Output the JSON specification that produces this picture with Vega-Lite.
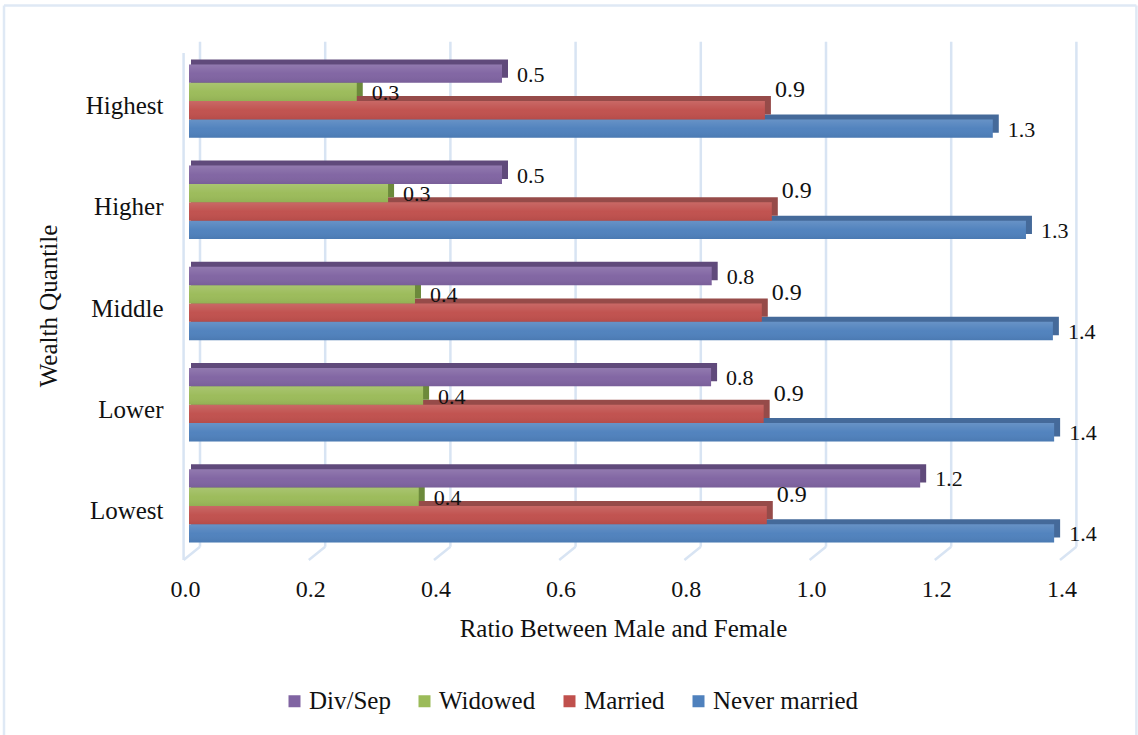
{
"$schema":"https://vega.github.io/schema/vega-lite/v6.json",
"autosize":"none","padding":{"left":189,"top":50.5,"right":72.6,"bottom":178.5},
"width":876.4,"height":506,"background":"white",
"config":{"view":{"stroke":null},"font":"Liberation Serif"},
"datasets":{
"bars":[
{"quantile":"Lowest","status":"Never married","value":1.382,"base":0},{"quantile":"Lowest","status":"Married","value":0.923,"base":0},{"quantile":"Lowest","status":"Widowed","value":0.367,"base":0},{"quantile":"Lowest","status":"Div/Sep","value":1.168,"base":0},
{"quantile":"Lower","status":"Never married","value":1.382,"base":0},{"quantile":"Lower","status":"Married","value":0.918,"base":0},{"quantile":"Lower","status":"Widowed","value":0.374,"base":0},{"quantile":"Lower","status":"Div/Sep","value":0.834,"base":0},
{"quantile":"Middle","status":"Never married","value":1.38,"base":0},{"quantile":"Middle","status":"Married","value":0.915,"base":0},{"quantile":"Middle","status":"Widowed","value":0.361,"base":0},{"quantile":"Middle","status":"Div/Sep","value":0.835,"base":0},
{"quantile":"Higher","status":"Never married","value":1.337,"base":0},{"quantile":"Higher","status":"Married","value":0.931,"base":0},{"quantile":"Higher","status":"Widowed","value":0.318,"base":0},{"quantile":"Higher","status":"Div/Sep","value":0.5,"base":0},
{"quantile":"Highest","status":"Never married","value":1.284,"base":0},{"quantile":"Highest","status":"Married","value":0.92,"base":0},{"quantile":"Highest","status":"Widowed","value":0.268,"base":0},{"quantile":"Highest","status":"Div/Sep","value":0.5,"base":0}
],
"ticks":[{"tick":0},{"tick":0.2},{"tick":0.4},{"tick":0.6},{"tick":0.8},{"tick":1.0},{"tick":1.2},{"tick":1.4}]
},
"resolve":{"scale":{"y":"independent","fill":"independent"}},
"layer":[
{"data":{"name":"ticks"},"mark":{"type":"rule","color":"#d8e4f3","strokeWidth":2.5,"yOffset":-9.8,"y2Offset":-8.8,"xOffset":11},
 "encoding":{"x":{"field":"tick","type":"quantitative","scale":{"domain":[0,1.4],"nice":false},
   "axis":{"values":[0,0.2,0.4,0.6,0.8,1,1.2,1.4],"format":".1f","domain":false,"ticks":false,"grid":false,"labelFontSize":24,"labelColor":"#111","labelPadding":21,"labelOffset":-4,"labelFlush":false,"title":"Ratio Between Male and Female","titleFontSize":25,"titleFontWeight":"normal","titleColor":"#111","titleX":434,"titleY":60,"titleFont":"Liberation Serif"}},
   "y":{"datum":0,"type":"quantitative","scale":{"domain":[0,1]},"axis":null},"y2":{"datum":1}}},
{"data":{"name":"ticks"},"mark":{"type":"rule","color":"#d8e4f3","strokeWidth":2.5,"xOffset":-5.4,"x2Offset":11,"yOffset":3.5,"y2Offset":-9.8},
 "encoding":{"x":{"field":"tick","type":"quantitative"},"x2":{"field":"tick"},
   "y":{"datum":0,"type":"quantitative","scale":{"domain":[0,1]},"axis":null},"y2":{"datum":0}}},
{"data":{"values":[{"tick":0}]},"mark":{"type":"rule","color":"#d8e4f3","strokeWidth":2.5,"xOffset":-5.4,"yOffset":3.5,"y2Offset":2.5},
 "encoding":{"x":{"field":"tick","type":"quantitative"},
   "y":{"datum":0,"type":"quantitative","scale":{"domain":[0,1]},"axis":null},"y2":{"datum":1}}},
{"data":{"values":[{"tick":0}]},"mark":{"type":"rule","color":"#dfe9f5","strokeWidth":2.5,"xOffset":-185,"yOffset":178.5,"y2Offset":-45},
 "encoding":{"x":{"field":"tick","type":"quantitative"},
   "y":{"datum":0,"type":"quantitative","scale":{"domain":[0,1]},"axis":null},"y2":{"datum":1}}},
{"data":{"values":[{"tick":1.4}]},"mark":{"type":"rule","color":"#dfe9f5","strokeWidth":2.5,"xOffset":71,"yOffset":178.5,"y2Offset":-45},
 "encoding":{"x":{"field":"tick","type":"quantitative"},
   "y":{"datum":0,"type":"quantitative","scale":{"domain":[0,1]},"axis":null},"y2":{"datum":1}}},
{"data":{"values":[{"tick":0,"end":1.4}]},"mark":{"type":"rule","color":"#dfe9f5","strokeWidth":2.5,"xOffset":-185,"x2Offset":71,"yOffset":-45},
 "encoding":{"x":{"field":"tick","type":"quantitative"},"x2":{"field":"end"},
   "y":{"datum":1,"type":"quantitative","scale":{"domain":[0,1]},"axis":null}}},
{"data":{"name":"bars"},"mark":{"type":"bar","xOffset":6,"x2Offset":2},
 "encoding":{"x":{"field":"value","type":"quantitative"},"x2":{"field":"base"},
   "y":{"field":"quantile","type":"nominal","sort":["Highest","Higher","Middle","Lower","Lowest"],"scale":{"range":[-5,501],"paddingInner":0.275,"paddingOuter":0.1375},"axis":null},
   "yOffset":{"field":"status","type":"nominal","sort":["Div/Sep","Widowed","Married","Never married"],"scale":{"paddingInner":0,"paddingOuter":0}},
   "fill":{"field":"status","type":"nominal","scale":{"domain":["Div/Sep","Widowed","Married","Never married"],"range":["#604a7b","#6c8a3b","#964b49","#456a9a"]},"legend":null}}},
{"data":{"name":"bars"},"mark":{"type":"bar"},
 "encoding":{"x":{"field":"value","type":"quantitative"},
   "y":{"field":"quantile","type":"nominal","sort":["Highest","Higher","Middle","Lower","Lowest"],"scale":{"paddingInner":0.275,"paddingOuter":0.1375},
     "axis":{"domain":false,"ticks":false,"labelFontSize":25,"labelColor":"#111","labelPadding":26,"labelOffset":5,"title":"Wealth Quantile","titleFontSize":25,"titleFontWeight":"normal","titleColor":"#111","titleX":-128,"titleY":255}},
   "yOffset":{"field":"status","type":"nominal","sort":["Div/Sep","Widowed","Married","Never married"],"scale":{"paddingInner":0,"paddingOuter":0}},
   "fill":{"field":"status","type":"nominal","scale":{"domain":["Div/Sep","Widowed","Married","Never married"],"range":["#8064a2","#9bbb59","#c0504d","#4f81bd"]},
     "legend":{"orient":"none","direction":"horizontal","legendX":93,"legendY":638,"title":null,"symbolType":"square","symbolSize":144,"labelFontSize":25,"labelColor":"#111","columnPadding":21,"labelOffset":2,"symbolStrokeWidth":0}}}},
{"data":{"name":"bars"},"mark":{"type":"bar","color":{"gradient":"linear","x1":0,"x2":0,"y1":0,"y2":1,"stops":[{"offset":0,"color":"rgba(255,255,255,0.14)"},{"offset":0.5,"color":"rgba(255,255,255,0.02)"},{"offset":1,"color":"rgba(0,0,0,0.06)"}]}},
 "encoding":{"x":{"field":"value","type":"quantitative"},
   "y":{"field":"quantile","type":"nominal","sort":["Highest","Higher","Middle","Lower","Lowest"],"scale":{"paddingInner":0.275,"paddingOuter":0.1375},"axis":null},
   "yOffset":{"field":"status","type":"nominal","sort":["Div/Sep","Widowed","Married","Never married"],"scale":{"paddingInner":0,"paddingOuter":0}}}},
{"data":{"name":"bars"},"transform":[{"filter":"datum.status !== 'Married'"}],"mark":{"type":"text","align":"left","baseline":"middle","dx":15,"dy":1,"fontSize":22,"color":"#111"},
 "encoding":{"x":{"field":"value","type":"quantitative"},
   "y":{"field":"quantile","type":"nominal","sort":["Highest","Higher","Middle","Lower","Lowest"],"scale":{"paddingInner":0.275,"paddingOuter":0.1375},"axis":null},
   "yOffset":{"field":"status","type":"nominal","sort":["Div/Sep","Widowed","Married","Never married"],"scale":{"paddingInner":0,"paddingOuter":0}},
   "text":{"field":"value","type":"quantitative","format":".1f"}}},
{"data":{"name":"bars"},"transform":[{"filter":"datum.status === 'Married'"}],"mark":{"type":"text","align":"left","baseline":"middle","dx":10,"dy":-20,"fontSize":24,"color":"#111"},
 "encoding":{"x":{"field":"value","type":"quantitative"},
   "y":{"field":"quantile","type":"nominal","sort":["Highest","Higher","Middle","Lower","Lowest"],"scale":{"paddingInner":0.275,"paddingOuter":0.1375},"axis":null},
   "yOffset":{"field":"status","type":"nominal","sort":["Div/Sep","Widowed","Married","Never married"],"scale":{"paddingInner":0,"paddingOuter":0}},
   "text":{"field":"value","type":"quantitative","format":".1f"}}}
]
}
